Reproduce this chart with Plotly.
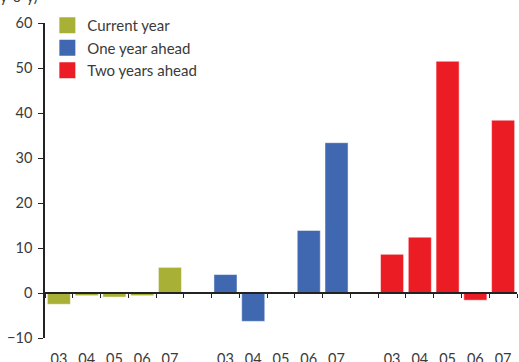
import plotly.graph_objects as go

# categories: three groups of years, separated by blank slots
years = ["03", "04", "05", "06", "07"]
groups = ["Current year", "One year ahead", "Two years ahead"]
colors = ["#A9B036", "#4068B1", "#EC1C24"]

current_year = [-2.5, -0.6, -0.9, -0.6, 5.7]
one_year_ahead = [4.1, -6.3, 0.0, 13.9, 33.4]
two_years_ahead = [8.6, 12.4, 51.5, -1.6, 38.4]
series = [current_year, one_year_ahead, two_years_ahead]

# unique category ids, with a gap between groups
cats = []
labels = []
for gi, g in enumerate(groups):
    for y in years:
        cats.append(g + " " + y)
        labels.append(y)
    if gi < len(groups) - 1:
        cats.append("gap" + str(gi))
        labels.append("")

font = dict(family="Lato, Open Sans, sans-serif", size=14.5, color="#3a3a3a")
xrange = [-0.5, len(cats) - 0.5]

fig = go.Figure()
for g, vals, c in zip(groups, series, colors):
    fig.add_trace(go.Bar(
        x=[g + " " + y for y in years], y=vals, name=g, showlegend=False,
        marker=dict(color=c, line=dict(color="rgba(255,255,255,0.6)", width=0.8)),
    ))
    # legend entry with a bigger square swatch
    fig.add_trace(go.Scatter(
        x=[None], y=[None], name=g, mode="markers",
        marker=dict(symbol="square", size=16, color=c),
    ))

# invisible trace to carry the axis drawn at zero
fig.add_trace(go.Scatter(x=cats, y=[0] * len(cats), xaxis="x2", mode="none",
                         showlegend=False, hoverinfo="skip"))

fig.update_layout(
    width=519, height=362,
    margin=dict(l=45, r=2, t=23, b=24, autoexpand=False),
    plot_bgcolor="white", paper_bgcolor="white",
    font=font,
    bargap=0.17,
    barmode="overlay",
    legend=dict(x=0.005, y=1 - 9 / 362, yref="container", xanchor="left", yanchor="top",
                bgcolor="rgba(0,0,0,0)", font=dict(size=15),
                tracegroupgap=0, itemwidth=30),
    xaxis=dict(categoryorder="array", categoryarray=cats, range=xrange,
               tickvals=cats, ticktext=labels, showline=False, ticks="",
               showgrid=False, zeroline=False, ticklabelstandoff=10),
    xaxis2=dict(overlaying="x", anchor="free", position=1 / 7, range=xrange,
                categoryorder="array", categoryarray=cats,
                showticklabels=False, ticks="outside", tickson="boundaries",
                ticklen=4, tickcolor="#222", tickwidth=1.3,
                showline=True, linecolor="#222", linewidth=1.5, showgrid=False),
    yaxis=dict(range=[-10, 60], tickvals=[-10, 0, 10, 20, 30, 40, 50, 60],
               showline=True, linecolor="#222", linewidth=1.5,
               ticks="outside", ticklen=5, tickcolor="#222", tickwidth=1.3,
               showgrid=False, zeroline=False, ticklabelstandoff=3),
    annotations=[dict(text="y-o-y)", xref="paper", yref="paper", x=-47 / 472, y=1.0,
                      xanchor="left", yanchor="bottom", yshift=16, showarrow=False,
                      font=dict(size=14.5, color="#3a3a3a"))],
)

fig.write_html("out.html", config={"displayModeBar": False},
               post_script="document.body.style.margin = '0';")
